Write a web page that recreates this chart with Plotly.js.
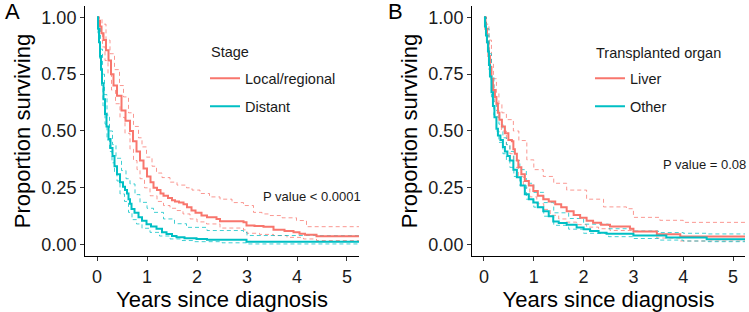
<!DOCTYPE html>
<html>
<head>
<meta charset="utf-8">
<script src="https://cdn.plot.ly/plotly-3.0.1.min.js"></script>
<style>html,body{margin:0;padding:0;background:#fff;}#chart{width:749px;height:312px;}</style>
</head>
<body>
<div id="chart"></div>
<script>
// ---------- Panel A: Stage ----------
const localX = [0,0.03,0.06,0.09,0.13,0.18,0.23,0.28,0.33,0.40,0.49,0.57,0.66,0.72,0.79,0.86,0.93,1.0,1.07,1.13,1.2,1.27,1.33,1.42,1.5,1.56,1.64,1.73,1.8,1.89,1.97,2.09,2.2,2.39,2.46,2.93,2.99,3.15,3.33,3.53,3.75,3.93,4.05,4.16,4.39,5.24];
const localY = [1,0.985,0.96,0.93,0.90,0.855,0.81,0.75,0.70,0.655,0.59,0.545,0.50,0.455,0.41,0.37,0.335,0.30,0.275,0.25,0.24,0.225,0.215,0.205,0.195,0.19,0.185,0.178,0.165,0.15,0.14,0.128,0.12,0.113,0.103,0.098,0.084,0.082,0.079,0.065,0.06,0.054,0.048,0.043,0.037,0.037];
const localUpX = [0,0.05,0.1,0.18,0.26,0.35,0.45,0.53,0.63,0.73,0.83,0.9,0.99,1.1,1.19,1.3,1.46,1.6,1.79,1.9,2.06,2.25,2.46,2.7,2.93,3.13,3.3,3.46,3.7,3.99,4.19,5.24];
const localUpY = [1,0.995,0.97,0.90,0.84,0.77,0.70,0.65,0.58,0.52,0.47,0.43,0.385,0.345,0.315,0.295,0.275,0.262,0.25,0.24,0.225,0.21,0.2,0.185,0.172,0.142,0.135,0.128,0.118,0.106,0.079,0.079];
const localLoX = [0,0.03,0.06,0.11,0.16,0.22,0.29,0.37,0.46,0.56,0.66,0.73,0.8,0.86,0.95,1.06,1.2,1.33,1.46,1.59,1.72,1.86,2.0,2.19,2.46,2.93,3.0,3.25,3.53,3.8,4.13,4.39,5.24];
const localLoY = [1,0.97,0.93,0.87,0.81,0.75,0.68,0.62,0.56,0.49,0.42,0.37,0.33,0.29,0.25,0.215,0.19,0.172,0.16,0.15,0.135,0.113,0.1,0.091,0.073,0.065,0.05,0.045,0.04,0.032,0.025,0.018,0.018];

const distX = [0,0.02,0.04,0.06,0.08,0.1,0.13,0.16,0.19,0.23,0.27,0.31,0.35,0.4,0.46,0.52,0.56,0.6,0.63,0.66,0.69,0.75,0.83,0.9,0.99,1.08,1.19,1.3,1.39,1.5,1.59,1.75,1.99,2.2,2.93,2.99,5.24];
const distY = [1,0.95,0.89,0.83,0.77,0.71,0.64,0.575,0.52,0.465,0.425,0.39,0.345,0.31,0.275,0.255,0.24,0.225,0.2,0.18,0.157,0.14,0.12,0.105,0.09,0.08,0.07,0.055,0.047,0.038,0.032,0.028,0.025,0.022,0.022,0.013,0.013];
const distUpX = [0,0.03,0.07,0.11,0.15,0.2,0.25,0.31,0.38,0.49,0.58,0.66,0.76,0.86,1.0,1.13,1.33,1.55,1.79,2.2,2.93,3.0,5.24];
const distUpY = [1,0.96,0.86,0.75,0.66,0.57,0.5,0.44,0.38,0.326,0.29,0.267,0.22,0.186,0.16,0.142,0.113,0.092,0.076,0.062,0.054,0.04,0.038];
const distLoX = [0,0.02,0.05,0.09,0.12,0.16,0.2,0.25,0.3,0.35,0.4,0.46,0.55,0.63,0.7,0.79,0.9,1.06,1.25,1.46,1.7,1.93,2.5,3.0,5.24];
const distLoY = [1,0.93,0.82,0.7,0.61,0.53,0.46,0.41,0.36,0.32,0.28,0.223,0.19,0.142,0.11,0.091,0.072,0.054,0.038,0.025,0.018,0.013,0.008,0.003,0.003];

// ---------- Panel B: Transplanted organ ----------
const liverX = [0,0.03,0.06,0.09,0.12,0.15,0.18,0.22,0.25,0.28,0.31,0.36,0.42,0.49,0.56,0.59,0.62,0.66,0.69,0.75,0.82,0.9,0.99,1.08,1.19,1.3,1.43,1.55,1.66,1.8,1.93,2.06,2.19,2.35,2.53,2.93,3.0,3.47,3.94,5.24];
const liverY = [1,0.95,0.89,0.83,0.78,0.73,0.68,0.65,0.62,0.58,0.55,0.52,0.49,0.46,0.455,0.42,0.4,0.37,0.34,0.31,0.28,0.26,0.236,0.215,0.2,0.19,0.178,0.165,0.147,0.13,0.118,0.105,0.096,0.088,0.08,0.07,0.058,0.046,0.036,0.036];
const liverUpX = [0,0.05,0.1,0.15,0.19,0.25,0.3,0.36,0.45,0.59,0.7,0.86,1.0,1.19,1.4,1.66,2.06,2.4,2.86,3.0,3.53,4.0,5.24];
const liverUpY = [1,0.97,0.9,0.8,0.73,0.67,0.62,0.58,0.55,0.5,0.458,0.373,0.33,0.3,0.27,0.24,0.2,0.166,0.158,0.12,0.107,0.098,0.098];
const liverLoX = [0,0.05,0.1,0.15,0.2,0.27,0.35,0.45,0.52,0.59,0.69,0.79,0.92,1.06,1.2,1.33,1.5,1.66,1.86,2.06,2.3,2.53,3.0,3.47,3.94,5.24];
const liverLoY = [1,0.92,0.8,0.71,0.63,0.56,0.5,0.44,0.4,0.34,0.3,0.25,0.21,0.18,0.155,0.129,0.113,0.099,0.088,0.077,0.07,0.062,0.04,0.029,0.016,0.016];

const otherX = [0,0.02,0.04,0.06,0.08,0.1,0.12,0.15,0.18,0.21,0.25,0.28,0.33,0.38,0.42,0.47,0.52,0.59,0.66,0.74,0.82,0.9,0.99,1.08,1.19,1.3,1.39,1.5,1.66,1.86,2.0,2.13,2.3,2.46,3.0,3.66,4.47,5.24];
const otherY = [1,0.96,0.92,0.89,0.85,0.79,0.74,0.67,0.61,0.56,0.51,0.48,0.46,0.43,0.41,0.39,0.37,0.33,0.296,0.26,0.222,0.2,0.185,0.165,0.147,0.125,0.102,0.095,0.088,0.075,0.068,0.06,0.052,0.048,0.04,0.031,0.024,0.024];
const otherUpX = [0,0.05,0.1,0.15,0.2,0.25,0.3,0.38,0.45,0.52,0.6,0.72,0.85,1.0,1.2,1.4,1.7,2.0,2.5,3.0,3.5,4.0,4.5,5.24];
const otherUpY = [1,0.95,0.84,0.74,0.66,0.59,0.53,0.47,0.44,0.41,0.37,0.33,0.27,0.23,0.185,0.14,0.115,0.09,0.07,0.06,0.053,0.05,0.047,0.047];
const otherLoX = [0,0.05,0.1,0.15,0.2,0.25,0.3,0.38,0.45,0.52,0.6,0.72,0.85,1.0,1.2,1.4,1.7,2.0,2.5,3.0,3.5,4.0,4.5,5.24];
const otherLoY = [1,0.9,0.77,0.65,0.57,0.5,0.45,0.4,0.37,0.34,0.3,0.26,0.2,0.165,0.125,0.085,0.068,0.05,0.035,0.027,0.02,0.016,0.013,0.013];

const xTicks = [0,1,2,3,4,5];
const yTicks = [0,0.25,0.5,0.75,1];
const yTickText = ["0.00","0.25","0.50","0.75","1.00"];

const RED = "#F8766D", CYAN = "#00BFC4";
const FONT = "Liberation Sans, Arial, sans-serif";

function main(x, y, color, name, xa, ya, leg, grp) {
  return {x, y, type: "scatter", mode: "lines", line: {shape: "hv", color, width: 2},
          name, xaxis: xa, yaxis: ya, legend: leg, legendgroup: grp, showlegend: true, hoverinfo: "skip"};
}
function ci(x, y, color, xa, ya) {
  return {x, y, type: "scatter", mode: "lines", line: {shape: "hv", color, width: 1, dash: "4px,3px"},
          opacity: 0.75, xaxis: xa, yaxis: ya, showlegend: false, hoverinfo: "skip"};
}

const data = [
  ci(localUpX, localUpY, RED, "x", "y"),
  ci(localLoX, localLoY, RED, "x", "y"),
  ci(distUpX, distUpY, CYAN, "x", "y"),
  ci(distLoX, distLoY, CYAN, "x", "y"),
  main(localX, localY, RED, "Local/regional", "x", "y", "legend", "a1"),
  main(distX, distY, CYAN, "Distant", "x", "y", "legend", "a2"),
  ci(liverUpX, liverUpY, RED, "x2", "y2"),
  ci(liverLoX, liverLoY, RED, "x2", "y2"),
  ci(otherUpX, otherUpY, CYAN, "x2", "y2"),
  ci(otherLoX, otherLoY, CYAN, "x2", "y2"),
  main(liverX, liverY, RED, "Liver", "x2", "y2", "legend2", "b1"),
  main(otherX, otherY, CYAN, "Other", "x2", "y2", "legend2", "b2")
];

function xax(domain, anchor) {
  return {domain, anchor, range: [-0.24, 5.24], tickvals: xTicks, showgrid: false, zeroline: false,
          showline: true, linecolor: "#000", linewidth: 1, ticks: "outside", ticklen: 4, tickcolor: "#333",
          tickfont: {family: FONT, size: 18, color: "#1a1a1a"},
          title: {text: "Years since diagnosis", font: {family: FONT, size: 22, color: "#000"}, standoff: 6}};
}
function yax(domain, anchor) {
  return {domain, anchor, range: [-0.05, 1.05], tickvals: yTicks, ticktext: yTickText, showgrid: false, zeroline: false,
          showline: true, linecolor: "#000", linewidth: 1, ticks: "outside", ticklen: 4, tickcolor: "#333",
          tickfont: {family: FONT, size: 18, color: "#1a1a1a"},
          title: {text: "Proportion surviving", font: {family: FONT, size: 22, color: "#000"}, standoff: 4}};
}
function leg(x) {
  return {x, y: 0.80, xanchor: "left", yanchor: "top", bgcolor: "rgba(0,0,0,0)", tracegroupgap: 6,
          font: {family: FONT, size: 14.5, color: "#1a1a1a"}};
}

const layout = {
  width: 749, height: 312, margin: {l: 0, r: 0, t: 0, b: 0},
  paper_bgcolor: "#fff", plot_bgcolor: "#fff",
  xaxis: xax([0.1135, 0.4793], "y"),
  yaxis: yax([0.1795, 0.9808], "x"),
  xaxis2: xax([0.6302, 0.9947], "y2"),
  yaxis2: yax([0.1795, 0.9808], "x2"),
  legend: leg(0.2737), legend2: leg(0.7877),
  annotations: [
    {text: "A", xref: "paper", yref: "paper", x: 0.004, y: 1.01, xanchor: "left", yanchor: "top", showarrow: false,
     font: {family: FONT, size: 22, color: "#000"}},
    {text: "B", xref: "paper", yref: "paper", x: 0.515, y: 1.01, xanchor: "left", yanchor: "top", showarrow: false,
     font: {family: FONT, size: 22, color: "#000"}},
    {text: "Stage", xref: "paper", yref: "paper", x: 0.279, y: 0.833, xanchor: "left", yanchor: "middle", showarrow: false,
     font: {family: FONT, size: 14.5, color: "#1a1a1a"}},
    {text: "Transplanted organ", xref: "paper", yref: "paper", x: 0.793, y: 0.83, xanchor: "left", yanchor: "middle", showarrow: false,
     font: {family: FONT, size: 14.5, color: "#1a1a1a"}},
    {text: "P value < 0.0001", xref: "paper", yref: "paper", x: 0.4846, y: 0.3696, xanchor: "right", yanchor: "middle",
     showarrow: false, font: {family: FONT, size: 13, color: "#1a1a1a"}},
    {text: "P value = 0.08", xref: "paper", yref: "paper", x: 0.9987, y: 0.4712, xanchor: "right", yanchor: "middle",
     showarrow: false, font: {family: FONT, size: 13, color: "#1a1a1a"}}
  ]
};

Plotly.newPlot("chart", data, layout, {staticPlot: true, displayModeBar: false});
</script>
</body>
</html>
